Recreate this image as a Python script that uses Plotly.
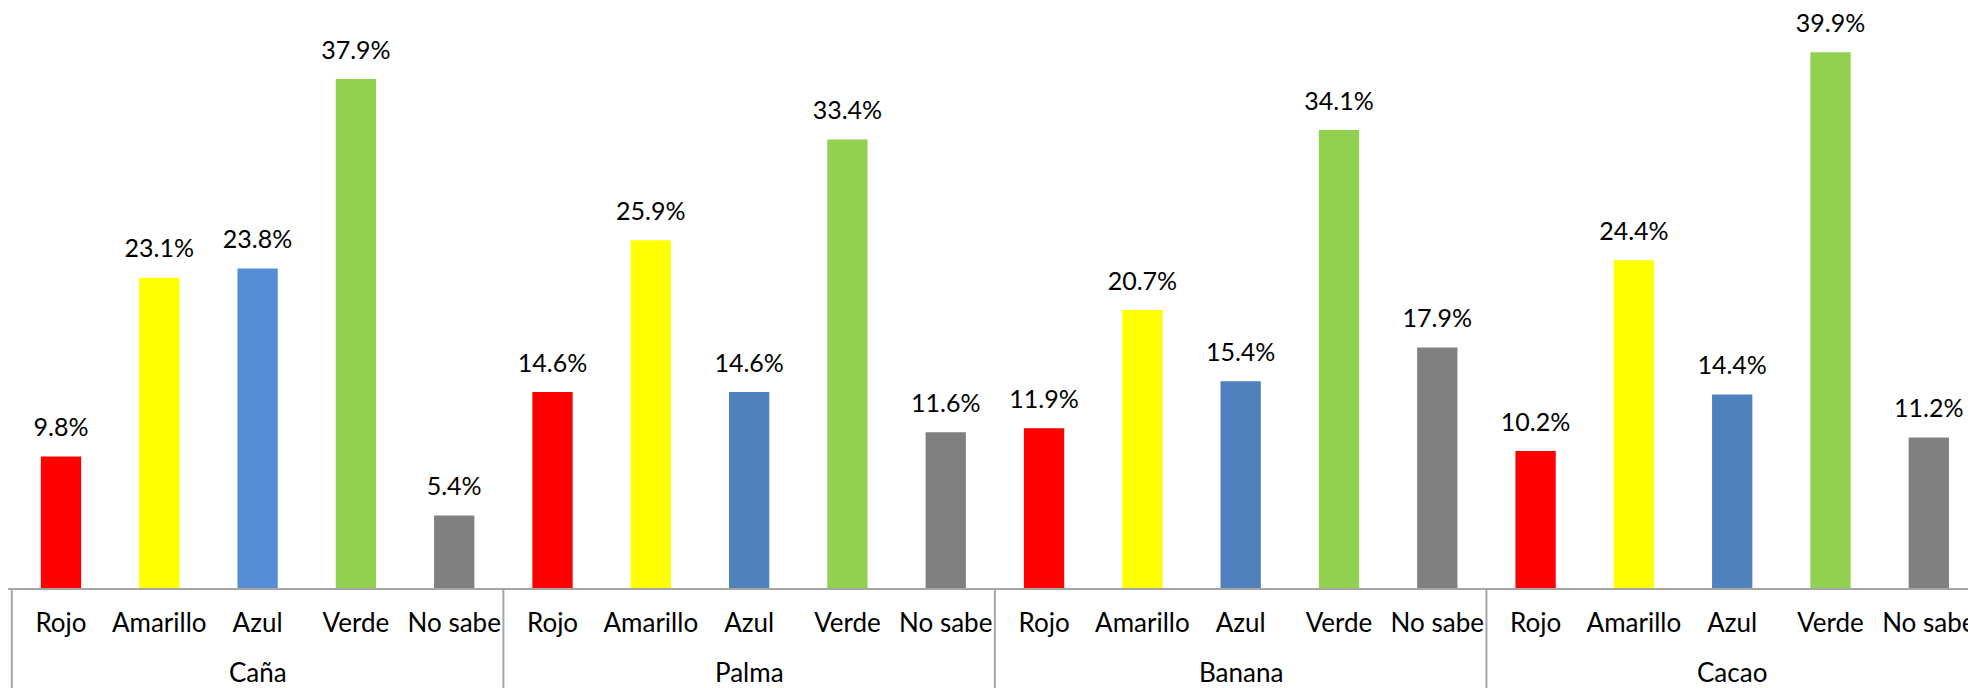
import plotly.graph_objects as go

crops = ["Caña", "Palma", "Banana", "Cacao"]
answers = ["Rojo", "Amarillo", "Azul", "Verde", "No sabe"]
cana = [9.8, 23.1, 23.8, 37.9, 5.4]
palma = [14.6, 25.9, 14.6, 33.4, 11.6]
banana = [11.9, 20.7, 15.4, 34.1, 17.9]
cacao = [10.2, 24.4, 14.4, 39.9, 11.2]
colors_cana = ["#FF0000", "#FFFF00", "#558ED5", "#92D050", "#808080"]
colors_other = ["#FF0000", "#FFFF00", "#4F81BD", "#92D050", "#808080"]

series = [cana, palma, banana, cacao]
n = len(answers)
xs, yv, cols, ticktext = [], [], [], []
for i, vals in enumerate(series):
    for j, (a, v) in enumerate(zip(answers, vals)):
        xs.append(i * n + j)
        yv.append(v)
        ticktext.append(a)
    cols += colors_cana if i == 0 else colors_other

font_family = "Lato, Open Sans, sans-serif"
line_col = "#A6A6A6"

fig = go.Figure()
fig.add_trace(go.Bar(
    x=xs, y=yv,
    marker=dict(color=cols, line=dict(width=0)),
    width=0.41,
    hoverinfo="skip",
))
fig.add_trace(go.Scatter(
    x=xs, y=yv,
    mode="markers+text",
    marker=dict(size=21, opacity=0),
    text=[f"{v:.1f}%" for v in yv],
    textposition="top center",
    textfont=dict(family=font_family, size=25, color="#000000"),
    hoverinfo="skip",
    cliponaxis=False,
))

# group labels and dividers, placed on the x axis scale
for i, crop in enumerate(crops):
    fig.add_annotation(
        x=i * n + (n - 1) / 2, xref="x",
        y=0, yref="paper", yshift=-84, yanchor="middle",
        text=crop, showarrow=False,
        font=dict(family=font_family, size=26, color="#000000"),
    )
for i in range(len(crops) + 1):
    fig.add_shape(
        type="line", xref="x", yref="paper",
        x0=i * n - 0.5, x1=i * n - 0.5, y0=0, y1=-0.2,
        line=dict(color=line_col, width=2),
    )

fig.update_layout(
    width=1968, height=680,
    margin=dict(l=0, r=0, t=0, b=100),
    paper_bgcolor="white", plot_bgcolor="white",
    showlegend=False,
    font=dict(family=font_family, size=26, color="#000000"),
)
fig.update_xaxes(
    range=[-0.539, 19.48],
    automargin=False,
    tickmode="array", tickvals=xs, ticktext=ticktext,
    showline=True, linecolor=line_col, linewidth=2,
    ticks="outside", ticklen=11, tickcolor="rgba(0,0,0,0)",
    showgrid=False, zeroline=False,
    tickfont=dict(family=font_family, size=26, color="#000000"),
)
fig.update_yaxes(range=[0, 43.19], visible=False, showgrid=False)

fig.write_html("out.html")
